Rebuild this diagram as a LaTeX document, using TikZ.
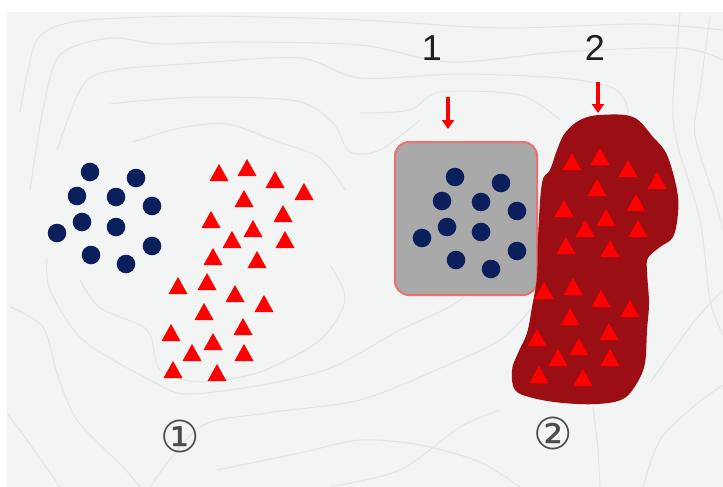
\documentclass[tikz,border=0pt]{standalone}
\usepackage{fontspec}
\setmainfont{Liberation Sans}
\newfontfamily\circfont{DejaVu Sans}
\usetikzlibrary{arrows.meta}
\definecolor{bgpaper}{HTML}{F3F4F4}
\definecolor{contourgray}{HTML}{E4E5E5}
\definecolor{dotblue}{HTML}{0A1F5C}
\definecolor{trired}{HTML}{FF0000}
\definecolor{boxgray}{HTML}{A9A9A9}
\definecolor{boxedge}{HTML}{EC7070}
\definecolor{blobred}{HTML}{9A0E14}
\begin{document}
\begin{tikzpicture}[x=1pt,y=-1pt,
  contour/.style={draw=contourgray, line width=1pt},
  bluedot/.style={fill=dotblue},
  redtri/.style={fill=trired},
  catchbox/.style={draw=boxedge, fill=boxgray, line width=2pt, rounded corners=14pt,
    minimum width=142pt, minimum height=153pt, inner sep=0pt},
  hitarrow/.style={trired, line width=3.6pt, -{Triangle[width=12pt,length=9pt]}},
  numlab/.style={inner sep=0pt, text=black!88, font=\fontsize{36}{36}\selectfont},
  circlab/.style={inner sep=0pt, text=black!70, font=\circfont\fontsize{44}{44}\selectfont}]
  \useasboundingbox (0,0) rectangle (723,487);
  \fill[white] (0,0) rectangle (723,487);
  \fill[bgpaper] (7,12) rectangle (723,487);
  % faint contour lines
  \begin{scope}
    \clip (7,12) rectangle (723,487);
    \draw[contour] plot[smooth] coordinates {(20,112) (28,70) (40,36) (80,21) (200,16) (360,20) (500,28) (640,24) (723,30)};
    \draw[contour] plot[smooth] coordinates {(30,190) (43,110) (60,55) (110,38) (160,44) (233,42) (360,45) (450,62) (560,52) (680,48) (723,60)};
    \draw[contour] plot[smooth] coordinates {(57,150) (83,85) (115,70) (200,63) (300,58) (360,78) (460,74) (560,78) (613,88) (628,110) (622,135)};
    \draw[contour] plot[smooth] coordinates {(110,104) (150,100) (207,97) (297,101) (333,123) (350,152) (380,150) (420,120)};
    \draw[contour] plot[smooth] coordinates {(133,142) (180,128) (227,124) (273,140) (320,158) (345,190)};
    \draw[contour] plot[smooth] coordinates {(47,258) (50,290) (83,340) (150,380) (187,394) (267,384) (333,367) (400,330) (460,300) (500,250)};
    \draw[contour] plot[smooth] coordinates {(80,280) (100,308) (147,330) (160,370) (200,382) (260,372) (320,340) (345,300) (330,265)};
    \draw[contour] plot[smooth] coordinates {(10,307) (43,327) (57,373) (77,420) (123,467) (140,487)};
    \draw[contour] plot[smooth] coordinates {(7,413) (27,440) (60,487)};
    \draw[contour] plot[smooth] coordinates {(150,487) (200,427) (267,413) (360,400) (443,367) (500,340) (530,310)};
    \draw[contour] plot[smooth] coordinates {(217,470) (300,453) (360,440) (420,445) (480,462) (520,487)};
    \draw[contour] plot[smooth] coordinates {(330,487) (400,470) (460,427) (500,410)};
    \draw[contour] plot[smooth] coordinates {(593,407) (598,450) (600,487)};
    \draw[contour] plot[smooth] coordinates {(643,487) (660,440) (693,407) (723,385)};
    \draw[contour] plot[smooth] coordinates {(650,383) (693,323) (723,290)};
    \draw[contour] plot[smooth] coordinates {(680,13) (673,100) (677,143) (700,220) (710,300) (723,335)};
    \draw[contour] plot[smooth] coordinates {(710,17) (700,90) (695,135) (715,200) (723,230)};
    \draw[contour] plot[smooth] coordinates {(360,113) (410,110) (440,92) (520,95) (560,120)};
  \end{scope}
  % dots, loose and caught
  \foreach \dx/\dy in {0/0,365/5} {
    \begin{scope}[shift={(\dx,\dy)}]
      \ifnum\dx>0 \node[catchbox] (box1) at (101,213.5) {}; \fi
      \foreach \x/\y in {90/172,136/178,77/196,116/197,152/206,82/222,116/227,57/233,152/246,91/255,126/264}
        \fill[bluedot] (\x,\y) circle (9.3);
    \end{scope}
  }
  % blob of triangles
  \fill[blobred] plot[smooth cycle, tension=0.6] coordinates {
    (600,115) (633,117) (653,137) (667,155) (677,190) (678,213) (673,237) (660,247)
    (648,258) (647,272) (649,303) (647,330) (645,363) (637,383) (623,399) (597,404)
    (563,403) (533,398) (515,390) (512,370) (518,353) (527,333) (532,307) (537,277)
    (538,237) (542,183) (550,170) (557,150) (565,133) (580,120)};
  \foreach \dx/\dy in {0/0,353/-11} {
    \begin{scope}[shift={(\dx,\dy)}]
      \foreach \x/\y in {219/173,247/168,275/180,304/192,244/199,283/214,211/220,253/229,232/240,285/240,213/257,257/260}
        \fill[redtri] (\x,\y-9) -- (\x+9.5,\y+8) -- (\x-9.5,\y+8) -- cycle;
    \end{scope}
  }
  \foreach \dx/\dy in {0/0,366/5} {
    \begin{scope}[shift={(\dx,\dy)}]
      \foreach \x/\y in {207/282,178/286,235/294,264/304,204/312,243/327,171/333,213/342,192/353,244/353,173/370,217/373}
        \fill[redtri] (\x,\y-9) -- (\x+9.5,\y+8) -- (\x-9.5,\y+8) -- cycle;
    \end{scope}
  }
  % labels and arrows
  \node[numlab] (lab1) at (432,48) {1};
  \node[numlab] (lab2) at (595,48) {2};
  \coordinate (a1s) at (448,97);
  \coordinate (a1e) at (448,129);
  \coordinate (a2s) at (598,82);
  \coordinate (a2e) at (598,113);
  \draw[hitarrow] (a1s) -- (a1e);
  \draw[hitarrow] (a2s) -- (a2e);
  \node[circlab] (mark1) at (180,436) {①};
  \node[circlab] (mark2) at (553,433) {②};
\end{tikzpicture}
\end{document}
